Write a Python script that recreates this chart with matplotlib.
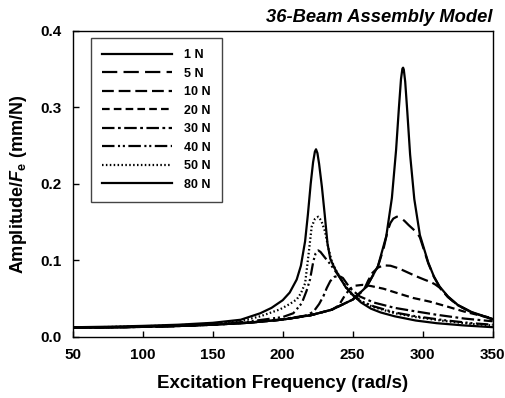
import matplotlib
matplotlib.use("Agg")
import matplotlib.pyplot as plt

plt.rcParams['font.family'] = ['Liberation Sans', 'DejaVu Sans']
plt.rcParams['font.weight'] = 'bold'
plt.rcParams['mathtext.fontset'] = 'custom'
plt.rcParams['mathtext.rm'] = 'Liberation Sans:bold'
plt.rcParams['mathtext.it'] = 'Liberation Sans:bold:italic'
plt.rcParams['lines.scale_dashes'] = False

# frequency (rad/s) and amplitude/Fe (mm/N)
f_1N = [50, 75, 100, 125, 150, 175, 200, 220, 235, 250, 260, 268, 274, 278, 281, 283,
        284.5, 285.5, 286, 286.5, 287.5, 289, 291, 294, 298, 304, 308, 312, 318, 325, 335, 350]
a_1N = [0.0120, 0.0125, 0.0132, 0.0143, 0.0160, 0.0185, 0.0227, 0.0284, 0.0356, 0.0488,
        0.0658, 0.0922, 0.1317, 0.1816, 0.2443, 0.2990, 0.3367, 0.3502, 0.3515, 0.3490,
        0.3333, 0.2940, 0.2382, 0.1800, 0.1330, 0.0970, 0.0790, 0.0660, 0.0530, 0.0420,
        0.0325, 0.0235]

f_5N = [50, 75, 100, 125, 150, 175, 200, 220, 235, 250, 260, 268, 272, 275, 277, 279,
        281.5, 284, 287, 290, 293, 296, 298, 304, 308, 312, 318, 325, 335, 350]
a_5N = [0.0120, 0.0125, 0.0132, 0.0143, 0.0160, 0.0185, 0.0227, 0.0284, 0.0356, 0.0488,
        0.0658, 0.0920, 0.1150, 0.1390, 0.1490, 0.1545, 0.1570, 0.1560, 0.1515, 0.1460,
        0.1410, 0.1360, 0.1300, 0.0960, 0.0785, 0.0655, 0.0525, 0.0415, 0.0320, 0.0230]

f_10N = [50, 75, 100, 125, 150, 175, 200, 220, 235, 250, 258, 261, 264, 268, 272, 277,
         283, 289, 295, 301, 306, 309, 312, 318, 325, 335, 350]
a_10N = [0.0120, 0.0125, 0.0132, 0.0143, 0.0160, 0.0185, 0.0227, 0.0284, 0.0356, 0.0488,
         0.0615, 0.0735, 0.0835, 0.0905, 0.0935, 0.0930, 0.0895, 0.0845, 0.0795, 0.0750,
         0.0715, 0.0685, 0.0645, 0.0520, 0.0415, 0.0320, 0.0232]

f_20N = [50, 75, 100, 125, 150, 175, 200, 220, 235, 240, 244, 248, 252, 257, 263, 272,
         281, 293, 305, 317, 329, 340, 350]
a_20N = [0.0120, 0.0125, 0.0132, 0.0143, 0.0160, 0.0185, 0.0227, 0.0284, 0.0356, 0.0410,
         0.0530, 0.0630, 0.0670, 0.0680, 0.0665, 0.0630, 0.0578, 0.0510, 0.0462, 0.0400,
         0.0335, 0.0285, 0.0245]

f_30N = [50, 75, 100, 125, 150, 175, 200, 215, 218, 222, 226, 229, 231.5, 234, 237, 240,
         243, 248, 255, 265, 280, 293, 310, 330, 350]
a_30N = [0.0120, 0.0125, 0.0132, 0.0143, 0.0160, 0.0186, 0.0232, 0.0275, 0.0290, 0.0330,
         0.0430, 0.0530, 0.0640, 0.0730, 0.0785, 0.0800, 0.0770, 0.0640, 0.0530, 0.0450,
         0.0380, 0.0340, 0.0290, 0.0240, 0.0205]

f_40N = [50, 75, 100, 125, 150, 175, 200, 207.6, 213.6, 217, 219.5, 221.9, 223.5, 225.4,
         227, 230, 234, 238, 241, 245, 250, 257, 265, 280, 295, 315, 335, 350]
a_40N = [0.0122, 0.0128, 0.0136, 0.0148, 0.0168, 0.0200, 0.0260, 0.0310, 0.0440, 0.0600,
         0.0750, 0.0990, 0.1090, 0.1130, 0.1110, 0.1040, 0.0950, 0.0850, 0.0770, 0.0660,
         0.0550, 0.0460, 0.0400, 0.0320, 0.0270, 0.0220, 0.0180, 0.0160]

f_50N = [50, 75, 100, 125, 150, 170, 184, 198, 205, 210, 213, 216, 218.3, 220.7, 223,
         225.4, 227.5, 230.2, 232.6, 235, 238, 241, 245, 250, 257, 265, 280, 295, 315, 335, 350]
a_50N = [0.0124, 0.0130, 0.0140, 0.0153, 0.0175, 0.0208, 0.0270, 0.0360, 0.0430, 0.0490,
         0.0570, 0.0700, 0.1050, 0.1440, 0.1540, 0.1570, 0.1520, 0.1380, 0.1160, 0.0990,
         0.0870, 0.0780, 0.0650, 0.0540, 0.0450, 0.0390, 0.0310, 0.0260, 0.0210, 0.0170, 0.0150]

f_80N = [50, 75, 100, 125, 150, 170, 184, 192, 200, 205, 210, 213, 216, 218, 220, 221.7,
         223, 223.8, 224.8, 226, 228, 230, 232, 234, 237, 241, 245, 250, 256, 263, 270, 280,
         295, 310, 330, 350]
a_80N = [0.0127, 0.0134, 0.0145, 0.0160, 0.0185, 0.0225, 0.0310, 0.0380, 0.0480, 0.0580,
         0.0750, 0.0930, 0.1250, 0.1600, 0.2000, 0.2280, 0.2420, 0.2450, 0.2400, 0.2260,
         0.1960, 0.1600, 0.1220, 0.1020, 0.0900, 0.0770, 0.0650, 0.0550, 0.0450, 0.0370,
         0.0320, 0.0270, 0.0215, 0.0180, 0.0150, 0.0128]

series = [
    ("1 N", f_1N, a_1N, '-'),
    ("5 N", f_5N, a_5N, (0, (11, 4.5))),
    ("10 N", f_10N, a_10N, (0, (8.5, 3.5))),
    ("20 N", f_20N, a_20N, (0, (5.5, 3))),
    ("30 N", f_30N, a_30N, (0, (9, 2.5, 2, 2.5))),
    ("40 N", f_40N, a_40N, (0, (9, 2.5, 1.5, 2, 1.5, 2.5))),
    ("50 N", f_50N, a_50N, (0, (1.1, 1.7))),
    ("80 N", f_80N, a_80N, '-'),
]

fig = plt.figure(figsize=(5.06, 3.98), dpi=100)
ax = fig.add_axes([0.1437, 0.1533, 0.830, 0.770])

for label, f, a, ls in series:
    ax.plot(f, a, color='black', linestyle=ls, linewidth=1.6, label=label)

ax.set_xlim(50, 350)
ax.set_ylim(0, 0.4)
ax.set_xticks([50, 100, 150, 200, 250, 300, 350])
ax.set_yticks([0.0, 0.1, 0.2, 0.3, 0.4])
ax.set_yticklabels(['0.0', '0.1', '0.2', '0.3', '0.4'])
ax.tick_params(direction='in', length=4, width=1, labelsize=11, pad=8,
               top=False, right=False)
for sp in ax.spines.values():
    sp.set_linewidth(1)

ax.set_xlabel("Excitation Frequency (rad/s)", fontsize=13.5, fontweight='bold', labelpad=9)
ax.set_ylabel(r"Amplitude/$F_\mathrm{e}$ (mm/N)", fontsize=13, fontweight='bold', labelpad=8)
ax.set_title("36-Beam Assembly Model", fontsize=13.2, fontweight='bold', fontstyle='italic',
             loc='right', pad=6)

leg = ax.legend(loc='upper left', bbox_to_anchor=(0.0436, 0.976), borderaxespad=0,
                fontsize=9, handlelength=5.6, handletextpad=0.9, labelspacing=0.52,
                borderpad=0.9, fancybox=False, framealpha=1, edgecolor='#444444')
leg.get_frame().set_linewidth(1)

fig.savefig("out.png", dpi=100)
